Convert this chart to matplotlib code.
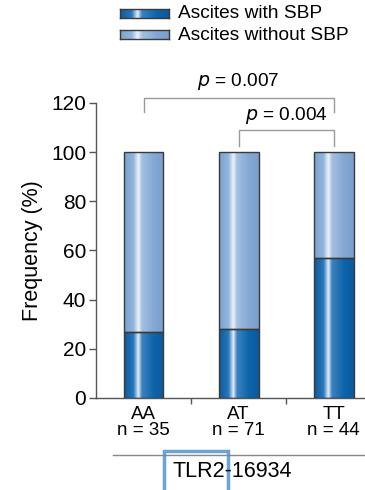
import matplotlib
matplotlib.use('Agg')
import matplotlib.pyplot as plt
import matplotlib.patches as patches
from matplotlib.colors import LinearSegmentedColormap
from matplotlib.lines import Line2D
import numpy as np

plt.rcParams['font.family'] = ['Liberation Sans', 'DejaVu Sans']

genotypes = ["AA", "AT", "TT"]
n_counts = [35, 71, 44]
with_sbp = [27, 28, 57]
without_sbp = [100 - v for v in with_sbp]
series_labels = ["Ascites with SBP", "Ascites without SBP"]
y_ticks = [0, 20, 40, 60, 80, 100, 120]
gene_label = "TLR2-16934"
p_values = [("AA", "TT", "0.007"), ("AT", "TT", "0.004")]

# horizontal "tube" shading for bars
dark_cmap = LinearSegmentedColormap.from_list(
    "dark", [(0, "#0a5a9e"), (0.24, "#2a78bb"), (0.36, "#e4eef8"),
             (0.45, "#3a82c0"), (0.75, "#0e64aa"), (1, "#0a5a9e")])
light_cmap = LinearSegmentedColormap.from_list(
    "light", [(0, "#7aa2cf"), (0.24, "#93b6dd"), (0.36, "#eef3fa"),
              (0.45, "#a4c0e2"), (0.75, "#84a8d3"), (1, "#7a9fcc")])
grad = np.linspace(0, 1, 256).reshape(1, -1)

fig = plt.figure(figsize=(3.65, 4.9), dpi=100)
ax = fig.add_axes([0.263, 0.188, 0.737, 0.602])

x = np.arange(len(genotypes))
w = 0.42
edge = "#3a3a3a"
for xi, a, b in zip(x, with_sbp, without_sbp):
    ax.imshow(grad, extent=[xi - w / 2, xi + w / 2, 0, a], aspect='auto',
              cmap=dark_cmap, zorder=2)
    ax.imshow(grad, extent=[xi - w / 2, xi + w / 2, a, a + b], aspect='auto',
              cmap=light_cmap, zorder=2)
ax.bar(x, with_sbp, w, facecolor='none', edgecolor=edge, lw=1.0, zorder=3)
ax.bar(x, without_sbp, w, bottom=with_sbp, facecolor='none', edgecolor=edge,
       lw=1.0, zorder=3)

ax.set_xlim(-0.5, 2.33)
ax.set_ylim(0, 120)
ax.set_yticks(y_ticks)
ax.tick_params(axis='y', labelsize=15, length=5, width=1, color='#555555', pad=2)
ax.set_xticks([0.5, 1.5])
ax.set_xticklabels([])
ax.tick_params(axis='x', length=4, width=1, color='#555555')
for xi, g, n in zip(x, genotypes, n_counts):
    ax.text(xi, -3.5, f"{g}\nn = {n}", ha='center', va='top', fontsize=13.5,
            linespacing=0.92, transform=ax.transData)
ax.set_ylabel("Frequency (%)", fontsize=15.5, labelpad=6)
for s in ['top', 'right']:
    ax.spines[s].set_visible(False)
for s in ['left', 'bottom']:
    ax.spines[s].set_color('#555555')
    ax.spines[s].set_linewidth(1.0)

# significance brackets
bracket_y = [(122, 116.3, 128.8), (109, 102.5, 115)]
for (g1, g2, p), (yh, yl, yt) in zip(p_values, bracket_y):
    x1, x2 = genotypes.index(g1), genotypes.index(g2)
    ax.plot([x1, x1, x2, x2], [yl, yh, yh, yl], color='#9a9a9a', lw=1.0,
            clip_on=False)
    ax.text((x1 + x2) / 2, yt, f"$p$ = {p}", ha='center', va='center',
            fontsize=13.7, clip_on=False)

# group line and gene label
fig.add_artist(Line2D([113 / 365, 1.0], [1 - 455 / 490] * 2, color='#888888', lw=1.0))
fig.text(232 / 365, 1 - 471 / 490, gene_label, ha='center', va='center', fontsize=15.5)
fig.add_artist(patches.Rectangle((164 / 365, 1 - 492 / 490), 64 / 365, 41 / 490,
                                 transform=fig.transFigure, fill=False,
                                 edgecolor='#6aa3d8', lw=2.5))

# legend drawn by hand to keep the gradient look
for cm, label, py in [(dark_cmap, series_labels[0], 14), (light_cmap, series_labels[1], 35)]:
    lax = fig.add_axes([120 / 365, 1 - (py + 4.5) / 490, 49 / 365, 9 / 490])
    lax.imshow(grad, aspect='auto', cmap=cm, extent=[0, 1, 0, 1])
    lax.set_xticks([])
    lax.set_yticks([])
    for s in lax.spines.values():
        s.set_color(edge)
        s.set_linewidth(1.0)
    fig.text(178 / 365, 1 - py / 490, label, ha='left', va='center', fontsize=13.8)

fig.savefig("out.png", dpi=100)
